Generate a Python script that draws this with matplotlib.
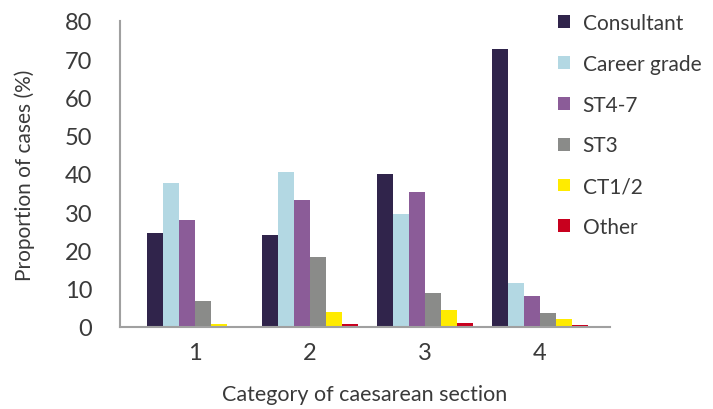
import matplotlib
matplotlib.use("Agg")
import matplotlib.pyplot as plt
import numpy as np

categories = ["1", "2", "3", "4"]
series_names = ["Consultant", "Career grade", "ST4-7", "ST3", "CT1/2", "Other"]
consultant = [24.6, 24.0, 39.9, 72.6]
career_grade = [37.6, 40.5, 29.5, 11.4]
st4_7 = [28.0, 33.2, 35.2, 8.0]
st3 = [6.8, 18.3, 8.8, 3.6]
ct1_2 = [0.8, 3.9, 4.4, 2.0]
other = [0.1, 0.8, 1.0, 0.5]
values = [consultant, career_grade, st4_7, st3, ct1_2, other]
colors = ["#30244b", "#b3d8e3", "#8b5c98", "#8a8b89", "#ffeb00", "#c8001e"]

plt.rcParams['font.family'] = ['Lato', 'DejaVu Sans']
txt = "#3a3a3a"

fig = plt.figure(figsize=(7.13, 4.10), dpi=100)
ax = fig.add_axes([120/713, 82/410, 490/713, 306/410])

x = np.arange(len(categories))
w = 0.139
for i, (name, vals, c) in enumerate(zip(series_names, values, colors)):
    ax.bar(x + (i - 2.5) * w, vals, width=w, color=c, label=name, linewidth=0)

ax.set_xlim(-0.652, 3.609)
ax.set_ylim(0, 80)
ax.set_yticks(range(0, 81, 10))
ax.set_xticks(x)
ax.set_xticklabels(categories)
ax.tick_params(axis='both', length=0, labelsize=17, colors=txt)
ax.tick_params(axis='x', pad=11)
ax.tick_params(axis='y', pad=20)
for s in ["top", "right"]:
    ax.spines[s].set_visible(False)
for s in ["left", "bottom"]:
    ax.spines[s].set_color("#a0a0a0")
    ax.spines[s].set_linewidth(1.5)

ax.set_ylabel("Proportion of cases (%)", fontsize=15, color=txt, va="center")
ax.yaxis.set_label_coords(-0.194, 0.5)
ax.set_xlabel("Category of caesarean section", fontsize=15.5, color=txt, va="center")
ax.xaxis.set_label_coords(0.5, -0.219)

leg = fig.legend(loc="upper left", bbox_to_anchor=(558/713, 1 - 14/410), frameon=False,
                 fontsize=15, labelcolor=txt, handlelength=0.58, handleheight=0.58,
                 handletextpad=0.6, labelspacing=1.0, borderaxespad=0, borderpad=0)

fig.savefig("out.png", dpi=100)
